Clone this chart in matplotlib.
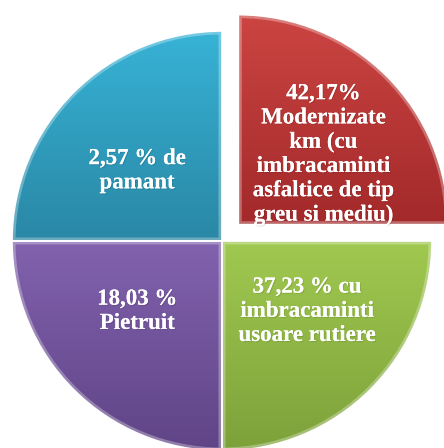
import numpy as np
import matplotlib
matplotlib.use("Agg")
import matplotlib.pyplot as plt
import matplotlib.patches as mpatches
import matplotlib.patheffects as pe
from matplotlib.colors import LinearSegmentedColormap

# Data (slices are drawn as equal quarters in the reference)
labels = [
    "42,17%\nModernizate\nkm (cu\nimbracaminti\nasfaltice de tip\ngreu si mediu)",
    "37,23 % cu\nimbracaminti\nusoare rutiere",
    "18,03 %\nPietruit",
    "2,57 % de\npamant",
]
shares = [25, 25, 25, 25]
explode = [0.11, 0, 0, 0]
top_colors = ["#CB4542", "#A0C950", "#8262AE", "#37B3D6"]
bottom_colors = ["#A3292A", "#7DA13A", "#5F4486", "#2A87A5"]

radius = 210
fig = plt.figure(figsize=(4.44, 4.48), dpi=100)
ax = fig.add_axes([0, 0, 1, 1])

wedges, texts = ax.pie(
    shares, explode=[e * radius for e in explode], startangle=90,
    counterclock=False, radius=radius, center=(222, 207),
    colors=top_colors, labels=labels, labeldistance=0.52,
    wedgeprops=dict(edgecolor="white", linewidth=1.2),
    textprops=dict(color="white", fontsize=16.5, fontweight="bold",
                   family="Liberation Serif", ha="center", va="center",
                   linespacing=1.2),
)
ax.set_xlim(0, 444)
ax.set_ylim(0, 448)
ax.set_aspect("equal")
ax.axis("off")

grad = np.linspace(1, 0, 256).reshape(-1, 1)
for w, ct, cb, t in zip(wedges, top_colors, bottom_colors, texts):
    ext = w.get_path().get_extents()
    cmap = LinearSegmentedColormap.from_list("g", [cb, ct])
    im = ax.imshow(grad, cmap=cmap, extent=[ext.x0, ext.x1, ext.y0, ext.y1],
                   origin="upper", aspect="auto", zorder=w.get_zorder() + 0.1)
    im.set_clip_path(w)
    # bevel highlight
    ax.add_patch(mpatches.Wedge(
        w.center, w.r, w.theta1, w.theta2, facecolor="none",
        edgecolor="white", alpha=0.3, linewidth=5,
        zorder=w.get_zorder() + 0.2, clip_path=w))
    ax.add_patch(mpatches.Wedge(
        w.center, w.r, w.theta1, w.theta2, facecolor="none",
        edgecolor="white", linewidth=1.2, zorder=w.get_zorder() + 0.3))
    # place label a bit wider / lower within its quadrant
    cx, cy = w.center
    tx, ty = t.get_position()
    t.set_position((cx + (tx - cx) * 1.1, cy + (ty - cy) * 0.91))
    t.set_zorder(10)
    t.set_path_effects([pe.withSimplePatchShadow(offset=(0.8, -0.8), shadow_rgbFace="black", alpha=0.1),
                        pe.Normal()])

fig.savefig("out.png", dpi=100)
